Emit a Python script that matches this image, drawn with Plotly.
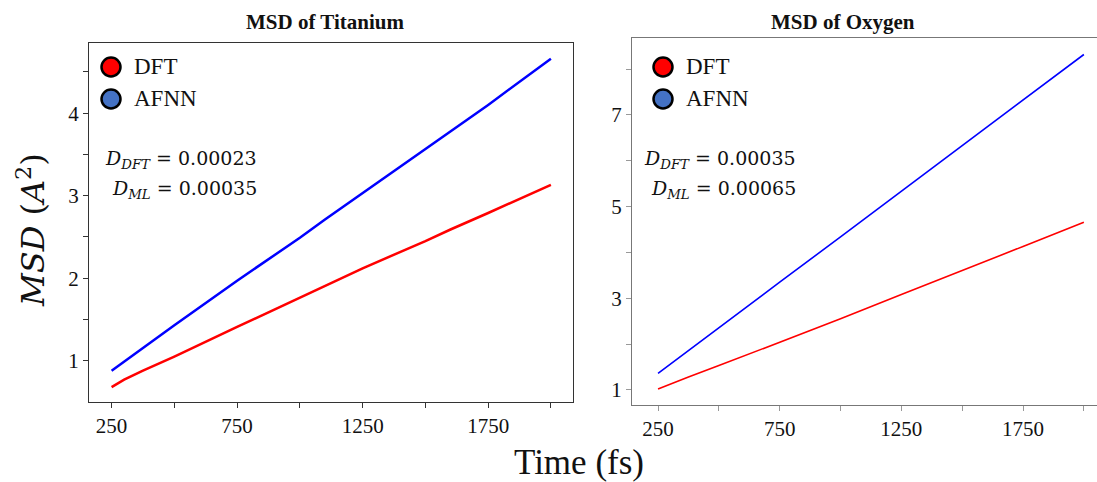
import plotly.graph_objects as go

# ---- data ----
time_ti = [250, 300, 375, 500, 750, 1000, 1100, 1250, 1500, 1600, 1750, 2000]
ti_dft = [0.68, 0.77, 0.88, 1.05, 1.41, 1.77, 1.91, 2.12, 2.45, 2.59, 2.79, 3.13]
ti_afnn = [0.88, 0.99, 1.16, 1.43, 1.97, 2.49, 2.71, 3.03, 3.56, 3.77, 4.10, 4.66]

time_o = [250, 300, 375, 500, 750, 1000, 1250, 1500, 1750, 2000]
o_dft = [1.02, 1.13, 1.28, 1.53, 2.04, 2.55, 3.08, 3.60, 4.13, 4.66]
o_afnn = [1.36, 1.56, 1.86, 2.36, 3.35, 4.34, 5.34, 6.33, 7.33, 8.32]

x_ticks = [250, 500, 750, 1000, 1250, 1500, 1750, 2000]
x_ticklabels = ["250", "", "750", "", "1250", "", "1750", ""]
ti_yticks = [1, 1.5, 2, 2.5, 3, 3.5, 4, 4.5]
ti_yticklabels = ["1", "", "2", "", "3", "", "4", ""]
o_yticks = [1, 2, 3, 4, 5, 6, 7, 8]
o_yticklabels = ["1", "", "3", "", "5", "", "7", ""]

legend_names = ["DFT", "AFNN"]
legend_colors = ["#ff0000", "#4472c4"]
ti_labels = ["<i>D<sub>DFT</sub></i> = 0.00023", "<i>D<sub>ML</sub></i> = 0.00035"]
o_labels = ["<i>D<sub>DFT</sub></i> = 0.00035", "<i>D<sub>ML</sub></i> = 0.00065"]

W, H = 1097, 482
SERIF = "Liberation Serif"
MATH = "DejaVu Serif"

fig = go.Figure()
fig.add_trace(go.Scatter(x=time_ti, y=ti_dft, mode="lines", line=dict(color="#ff0000", width=2.5),
                         xaxis="x", yaxis="y", showlegend=False))
fig.add_trace(go.Scatter(x=time_ti, y=ti_afnn, mode="lines", line=dict(color="#0000ff", width=2.5),
                         xaxis="x", yaxis="y", showlegend=False))
fig.add_trace(go.Scatter(x=time_o, y=o_dft, mode="lines", line=dict(color="#ff0000", width=1.6),
                         xaxis="x2", yaxis="y2", showlegend=False))
fig.add_trace(go.Scatter(x=time_o, y=o_afnn, mode="lines", line=dict(color="#0000ff", width=1.6),
                         xaxis="x2", yaxis="y2", showlegend=False))

def px_x(p):
    return p / W

def px_y(p):
    return 1 - p / H

tickfont = dict(family=SERIF, size=21, color="#111")
common_x = dict(tickmode="array", tickvals=x_ticks, ticktext=x_ticklabels, ticks="outside",
                ticklen=5, tickfont=tickfont, showgrid=False, zeroline=False, showline=True)

fig.update_layout(
    width=W, height=H,
    margin=dict(l=0, r=0, t=0, b=0),
    plot_bgcolor="white", paper_bgcolor="white",
    font=dict(family=SERIF),
    xaxis=dict(domain=[px_x(89), px_x(573)], range=[160, 2088], anchor="y",
               linecolor="#333", linewidth=1.3, mirror=True, tickcolor="#333", **common_x),
    yaxis=dict(domain=[px_y(402), px_y(43)], range=[0.5, 4.85], anchor="x",
               tickmode="array", tickvals=ti_yticks, ticktext=ti_yticklabels,
               ticks="outside", ticklen=5, tickfont=tickfont, showgrid=False, zeroline=False,
               showline=True, linecolor="#333", linewidth=1.3, mirror=True, tickcolor="#333"),
    xaxis2=dict(domain=[px_x(632), 1.0], range=[143, 2054], anchor="y2",
                linecolor="#777", linewidth=1.3, mirror=True, tickcolor="#999", **common_x),
    yaxis2=dict(domain=[px_y(405), px_y(38)], range=[0.67, 8.68], anchor="x2",
                tickmode="array", tickvals=o_yticks, ticktext=o_yticklabels,
                ticks="outside", ticklen=5, tickfont=tickfont, showgrid=False, zeroline=False,
                showline=True, linecolor="#777", linewidth=1.3, mirror=False, tickcolor="#999"),
)

shapes = []
annotations = []

# legends
for (cx, tx) in [(111, 132), (663, 684)]:
    for i, (name, col) in enumerate(zip(legend_names, legend_colors)):
        cy = 67 + i * 32
        shapes.append(dict(type="circle", xref="paper", yref="paper",
                           xsizemode="pixel", ysizemode="pixel",
                           xanchor=px_x(cx), yanchor=px_y(cy),
                           x0=-9.5, x1=9.5, y0=-9.5, y1=9.5,
                           fillcolor=col, line=dict(color="black", width=2.5)))
        annotations.append(dict(xref="paper", yref="paper", x=px_x(tx), y=px_y(cy),
                                text=name, showarrow=False, xanchor="left", yanchor="middle",
                                font=dict(family=SERIF, size=23, color="#111")))

# diffusion coefficient labels
for (rx, labels) in [(259, ti_labels), (798, o_labels)]:
    for i, t in enumerate(labels):
        annotations.append(dict(xref="paper", yref="paper", x=px_x(rx), y=px_y(160 + i * 30),
                                text=t, showarrow=False, xanchor="right", yanchor="middle",
                                font=dict(family=MATH, size=19, color="#111")))

# titles
annotations.append(dict(xref="paper", yref="paper", x=px_x(325), y=px_y(22), text="<b>MSD of Titanium</b>",
                        showarrow=False, xanchor="center", yanchor="middle",
                        font=dict(family=SERIF, size=21, color="#111")))
annotations.append(dict(xref="paper", yref="paper", x=px_x(843), y=px_y(22), text="<b>MSD of Oxygen</b>",
                        showarrow=False, xanchor="center", yanchor="middle",
                        font=dict(family=SERIF, size=21, color="#111")))

# axis titles
annotations.append(dict(xref="paper", yref="paper", x=px_x(579), y=px_y(462), text="Time (fs)",
                        showarrow=False, xanchor="center", yanchor="middle",
                        font=dict(family=SERIF, size=35, color="#111")))
annotations.append(dict(xref="paper", yref="paper", x=px_x(31), y=px_y(230),
                        text="<i>MSD</i> (<i>A</i><sup>2</sup>)", textangle=-90,
                        showarrow=False, xanchor="center", yanchor="middle",
                        font=dict(family=MATH, size=32, color="#111")))

fig.update_layout(shapes=shapes, annotations=annotations)
fig.write_html("out.html")
